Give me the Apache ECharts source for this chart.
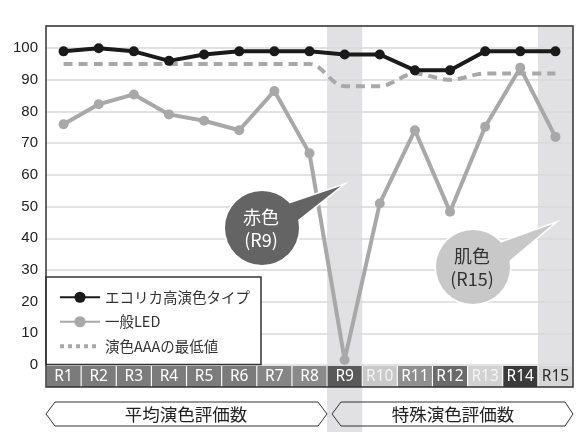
<!DOCTYPE html>
<html>
<head>
<meta charset="utf-8">
<script src="https://cdn.jsdelivr.net/npm/echarts@6/dist/echarts.min.js"></script>
<style>
html,body{margin:0;padding:0;background:#fff;}
#chart{width:583px;height:432px;}
</style>
</head>
<body>
<div id="chart"></div>
<script>
// ---- data ----
const categories = ['R1','R2','R3','R4','R5','R6','R7','R8','R9','R10','R11','R12','R13','R14','R15'];
const ecoricaValues = [99,100,99,96,98,99,99,99,98,98,93,93,99,99,99];
const ledValues = [76,82.3,85.4,79.1,77.1,74.1,86.5,66.8,1.6,51,74.1,48.4,75.2,93.8,72];
const aaaMinValues = [95,95,95,95,95,95,95,95,88,88,92,90,92,92,92];
const seriesNames = ['エコリカ高演色タイプ','一般LED','演色AAAの最低値'];
const groupLabels = ['平均演色評価数','特殊演色評価数'];
const calloutR9 = ['赤色','(R9)'];
const calloutR15 = ['肌色','(R15)'];
const highlightCats = ['R9','R15'];

// ---- styles ----
const stripColors = ['#7b7b7b','#7b7b7b','#7b7b7b','#7b7b7b','#7b7b7b','#7b7b7b','#858585','#8a8a8a','#595959','#c9c9c9','#8f8f8f','#6a6a6a','#d2d2d2','#3a3a3a','#d6d6d6'];
const stripText = ['#fff','#fff','#fff','#fff','#fff','#fff','#fff','#fff','#fff','#f4f4f4','#fff','#fff','#f4f4f4','#fff','#2a2a2a'];
const rich = {};
stripColors.forEach((c,i)=>{
  rich['s'+i] = {backgroundColor:c, color:stripText[i], width:34, height:21, lineHeight:21, align:'center', fontSize:15.5, fontFamily:'"Liberation Sans Narrow","Noto Sans",sans-serif'};
});

const chart = echarts.init(document.getElementById('chart'), null, {renderer:'canvas'});
const GRID = {left:46, right:10, top:26, bottom:67};
const cjk = '"Noto Sans CJK JP","Noto Sans",sans-serif';

function callout(id, cx, cy, r, poly, fill, textColor, lines){
  return {
    type:'group', id:id, z:20,
    children:[
      {type:'circle', shape:{cx:cx, cy:cy, r:r}, style:{fill:'#fff', stroke:'#fff', lineWidth:3}, z:20},
      {type:'polygon', shape:{points:poly}, style:{fill:'#fff', stroke:'#fff', lineWidth:3, lineJoin:'miter'}, z:20},
      {type:'circle', shape:{cx:cx, cy:cy, r:r}, style:{fill:fill}, z:21},
      {type:'polygon', shape:{points:poly}, style:{fill:fill}, z:21},
      {type:'text', style:{text:lines[0], x:cx-1, y:cy-11, align:'center', verticalAlign:'middle', fill:textColor, fontSize:18, fontFamily:cjk}, z:22},
      {type:'text', style:{text:lines[1], x:cx-1, y:cy+12, align:'center', verticalAlign:'middle', fill:textColor, fontSize:18, fontFamily:cjk}, z:22}
    ]
  };
}

const option = {
  animation:false,
  backgroundColor:'#fff',
  grid: GRID,
  xAxis:{
    type:'category', data:categories, boundaryGap:true,
    axisLine:{show:false}, axisTick:{show:false},
    axisLabel:{interval:0, margin:1, formatter:(v,i)=>'{s'+i+'|'+v+'}', rich:rich}
  },
  yAxis:{
    type:'value', min:0, max:107, interval:10,
    axisLine:{show:false}, axisTick:{show:false},
    axisLabel:{showMaxLabel:false, color:'#222', fontSize:15, margin:8, fontFamily:'"Liberation Sans",Arial,sans-serif'},
    splitLine:{lineStyle:{color:'#d9d9d9', width:1.5}}
  },
  legend:{
    orient:'vertical', left:46, top:277, selectedMode:false,
    padding:[13,11,11,12], itemGap:10, itemWidth:40, itemHeight:14,
    backgroundColor:'#fff', borderColor:'#333', borderWidth:1.5, borderRadius:0,
    textStyle:{fontSize:14.5, color:'#333', fontFamily:cjk},
    data:[
      {name:seriesNames[0]},
      {name:seriesNames[1]},
      {name:seriesNames[2], itemStyle:{opacity:0}, lineStyle:{type:[4,4], width:4, opacity:1}}
    ]
  },
  series:[
    {name:seriesNames[2], type:'line', data:aaaMinValues, symbol:'none', smooth:0.35,
     lineStyle:{color:'#a8a8a8', width:4, type:[9,6], cap:'butt'}, itemStyle:{color:'#a8a8a8'}, z:2},
    {name:seriesNames[1], type:'line', data:ledValues, symbol:'circle', symbolSize:10,
     lineStyle:{color:'#a8a8a8', width:4}, itemStyle:{color:'#a8a8a8'}, z:3},
    {name:seriesNames[0], type:'line', data:ecoricaValues, symbol:'circle', symbolSize:10,
     lineStyle:{color:'#1a1a1a', width:4}, itemStyle:{color:'#1a1a1a'}, z:4}
  ],
  graphic:[
    {type:'rect', id:'frame', shape:{x:46, y:26, width:527, height:361}, style:{fill:'none', stroke:'#333', lineWidth:1.5}, z:10},
    callout('c9', 262, 228, 37, [[288,204],[341,186],[298,220],[262,228]], '#646464', '#fff', calloutR9),
    callout('c15', 473, 267, 37, [[500,243],[553,224],[509,261],[473,267]], '#c8c8c8', '#333', calloutR15),
    {type:'polygon', id:'arrowL', shape:{points:[[55,402],[318,402],[327,414],[318,426],[55,426],[46,414]]}, style:{fill:'none', stroke:'#333', lineWidth:1}, z:10},
    {type:'polygon', id:'arrowR', shape:{points:[[341,402],[565,402],[573,414],[565,426],[341,426],[332,414]]}, style:{fill:'none', stroke:'#333', lineWidth:1}, z:10},
    {type:'text', id:'txtL', style:{text:groupLabels[0], x:186, y:414, align:'center', verticalAlign:'middle', fill:'#222', fontSize:17.5, fontFamily:cjk}, z:11},
    {type:'text', id:'txtR', style:{text:groupLabels[1], x:453, y:414, align:'center', verticalAlign:'middle', fill:'#222', fontSize:17.5, fontFamily:cjk}, z:11}
  ]
};
chart.setOption(option);

// highlight bands computed from the category axis
const x0 = chart.convertToPixel({xAxisIndex:0}, categories[0]);
const x1 = chart.convertToPixel({xAxisIndex:0}, categories[1]);
const bw = x1 - x0;
const yTop = chart.convertToPixel({yAxisIndex:0}, 107);
const yZero = chart.convertToPixel({yAxisIndex:0}, 0);
const bands = highlightCats.map((c,i)=>{
  const cx = chart.convertToPixel({xAxisIndex:0}, c);
  const bottom = i===0 ? 432 : yZero;
  return {type:'rect', id:'band'+i, shape:{x:cx-bw/2, y:yTop, width:bw, height:bottom-yTop}, style:{fill:'#e1e1e3'}, z:-1, silent:true};
});
chart.setOption({graphic:bands});
</script>
</body>
</html>
